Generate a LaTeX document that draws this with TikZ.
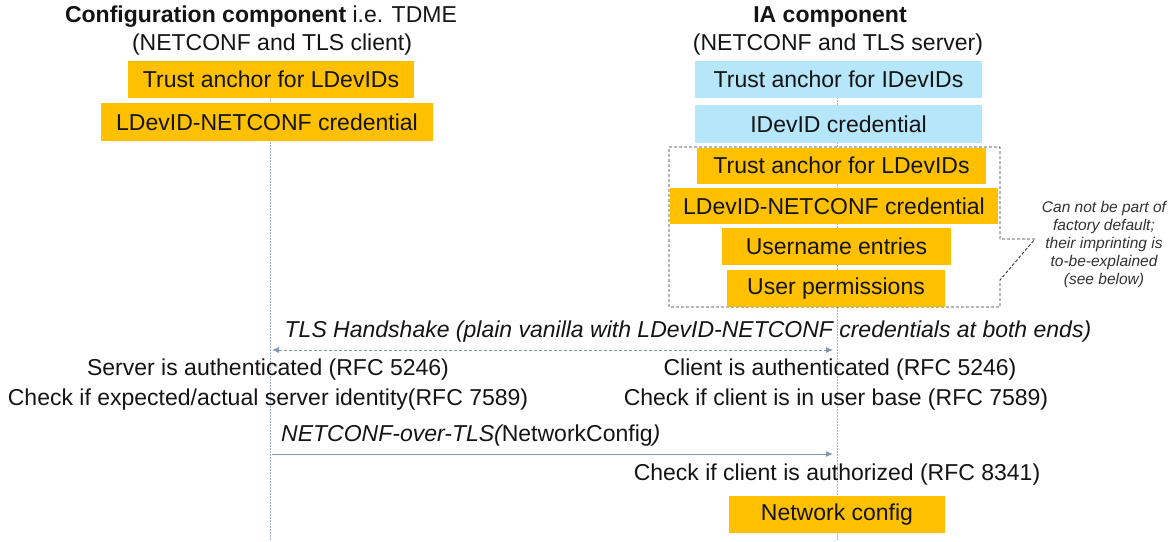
\documentclass[tikz,border=0pt]{standalone}
\usepackage{fontspec}
\setmainfont{Liberation Sans}
\usetikzlibrary{arrows.meta}
\definecolor{orng}{RGB}{255,192,0}
\definecolor{lblue}{RGB}{182,230,250}
\definecolor{lifec}{RGB}{165,178,196}
\definecolor{arrc}{RGB}{132,151,176}
\definecolor{txt}{RGB}{20,20,20}
\definecolor{notec}{RGB}{50,50,50}
\begin{document}
\begin{tikzpicture}[x=1pt,y=-1pt,
  every node/.style={font=\fontsize{23}{27}\selectfont, inner sep=0pt, text=txt},
  obox/.style={fill=orng, minimum height=37pt},
  bbox/.style={fill=lblue, minimum height=37pt},
  lifeline/.style={draw=lifec, line width=0.8pt, dash pattern=on 2pt off 1pt},
  msgdash/.style={draw=arrc, line width=0.9pt, dash pattern=on 3pt off 2pt, {Latex[length=7pt,width=6pt]}-{Latex[length=7pt,width=6pt]}},
  msgsolid/.style={draw=arrc, line width=1pt, -{Latex[length=7pt,width=6pt]}},
  callout/.style={draw=notec, line width=0.9pt, dash pattern=on 3pt off 2pt},
  notetext/.style={font=\fontsize{15.5}{18}\selectfont\itshape, text=notec, align=center}
]
\useasboundingbox (0,0) rectangle (1175,541);

% lifelines
\coordinate (ltop) at (270,61);
\coordinate (lbot) at (270,541);
\coordinate (rtop) at (837,61);
\coordinate (rbot) at (837,541);
\draw[lifeline] (ltop) -- (lbot);
\draw[lifeline] (rtop) -- (rbot);

% titles
\node (lt1) at (261,17) {\textbf{Configuration component} i.e. TDME};
\node (lt2) at (272,45) {(NETCONF and TLS client)};
\node (rt1) at (830,17) {\textbf{IA component}};
\node (rt2) at (838,45) {(NETCONF and TLS server)};

% left boxes
\node[obox, minimum width=286pt] (lta) at (271,79.5) {Trust anchor for LDevIDs};
\node[obox, minimum width=332pt, minimum height=38pt] (lcred) at (267,122) {LDevID-NETCONF credential};

% right boxes
\node[bbox, minimum width=287pt] (rita) at (838.5,79.5) {Trust anchor for IDevIDs};
\node[bbox, minimum width=287pt, minimum height=38pt] (ricred) at (838.5,124) {IDevID credential};

% dashed callout box
\draw[callout] (669,147) -- (1000,147) -- (1000,239) -- (1035,239) -- (1000,280) -- (1000,307) -- (669,307) -- cycle;

\node[obox, minimum width=289pt, minimum height=36pt] (rlta) at (841.5,165.5) {Trust anchor for LDevIDs};
\node[obox, minimum width=328pt, minimum height=36pt] (rlcred) at (834,206) {LDevID-NETCONF credential};
\node[obox, minimum width=229pt] (ruser) at (836.5,246.5) {Username entries};
\node[obox, minimum width=218pt] (rperm) at (836,288.5) {User permissions};

\node[notetext] (note) at (1104,244) {Can not be part of\\factory default;\\their imprinting is\\to-be-explained\\(see below)};

% TLS handshake
\node (tlsl) at (688,332) {\itshape TLS Handshake (plain vanilla with LDevID-NETCONF credentials at both ends)};
\coordinate (hsl) at (272,350);
\coordinate (hsr) at (833,350);
\draw[msgdash] (hsl) -- (hsr);

\node (sauth) at (268,370) {Server is authenticated (RFC 5246)};
\node (scheck) at (268,400) {Check if expected/actual server identity(RFC 7589)};
\node (cauth) at (840,370) {Client is authenticated (RFC 5246)};
\node (ccheck) at (836,400) {Check if client is in user base (RFC 7589)};

% NETCONF-over-TLS
\node[anchor=west] (ncl) at (281,436) {\itshape NETCONF-over-TLS(\upshape NetworkConfig\itshape)};
\coordinate (nsl) at (272,454);
\coordinate (nsr) at (833,454);
\draw[msgsolid] (nsl) -- (nsr);

\node (cauthz) at (837,475) {Check if client is authorized (RFC 8341)};
\node[obox, minimum width=216pt] (netcfg) at (837,514.5) {Network config};
\end{tikzpicture}
\end{document}
